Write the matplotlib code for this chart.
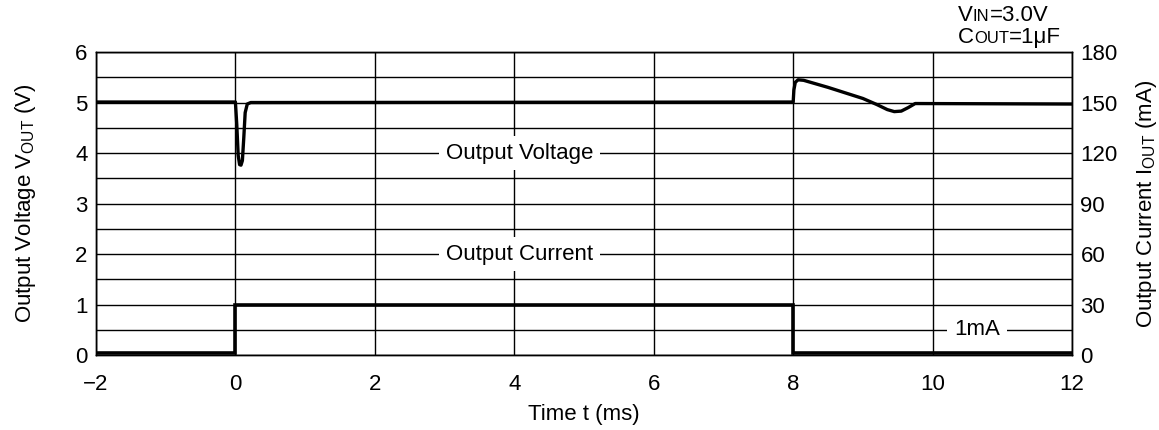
import numpy as np
import matplotlib
matplotlib.use("Agg")
import matplotlib.pyplot as plt
from matplotlib.offsetbox import TextArea, HPacker, VPacker, AnchoredOffsetbox

plt.rcParams['font.family'] = ['Liberation Sans', 'DejaVu Sans']
FS = 16

# output voltage trace (V) vs time (ms)
t_v = [-2.0, 0.0, 0.02, 0.04, 0.06, 0.08, 0.10, 0.12, 0.14, 0.17, 0.22, 0.40,
       8.0, 8.01, 8.03, 8.07, 8.15, 8.5, 9.0, 9.2, 9.35, 9.45, 9.55, 9.65, 9.75, 12.0]
vout = [5.01, 5.01, 4.55, 3.95, 3.77, 3.76, 3.85, 4.3, 4.8, 4.97, 5.0, 5.0,
        5.01, 5.25, 5.4, 5.45, 5.44, 5.3, 5.08, 4.96, 4.86, 4.82, 4.83, 4.9, 4.98, 4.97]

# output current (mA) vs time (ms)
t_i = [-2.0, 0.0, 0.0, 8.0, 8.0, 12.0]
iout = [1, 1, 30, 30, 1, 1]

xticks = [-2, 0, 2, 4, 6, 8, 10, 12]
v_ticks = [0, 1, 2, 3, 4, 5, 6]
i_ticks = [0, 30, 60, 90, 120, 150, 180]

fig = plt.figure(figsize=(11.59, 4.30), dpi=100)
ax = fig.add_axes([0.0828, 0.1744, 0.8422, 0.7046])
ax2 = ax.twinx()

ax.set_xlim(-2, 12)
ax.set_ylim(0, 6)
ax2.set_ylim(0, 180)

ax.set_xticks(xticks)
ax.set_xticklabels(['\u22122' if x < 0 else str(x) for x in xticks])
ax.set_yticks(v_ticks)
ax.set_yticks(np.arange(0, 6.01, 0.5), minor=True)
ax2.set_yticks(i_ticks)

ax.grid(True, which='both', color='black', linewidth=1.0)
ax.set_axisbelow(True)
for a in (ax, ax2):
    a.tick_params(axis='both', which='both', length=0, labelsize=FS, pad=6)
    for s in a.spines.values():
        s.set_linewidth(1.0)
        s.set_color('black')
ax.tick_params(axis='x', pad=14)

ax.plot(t_v, vout, color='black', linewidth=2.4, solid_joinstyle='round',
        solid_capstyle='butt', zorder=5)
ax2.plot(t_i, iout, color='black', linewidth=2.6, solid_joinstyle='miter', zorder=5)

box = dict(facecolor='white', edgecolor='none', pad=5)
ax.text(4.08, 4.0, 'Output Voltage', ha='center', va='center', fontsize=FS, bbox=box, zorder=4)
ax.text(4.08, 2.0, 'Output Current', ha='center', va='center', fontsize=FS, bbox=box, zorder=4)
ax.text(10.64, 0.5, '1mA', ha='center', va='center', fontsize=FS, bbox=box, zorder=4)

ax.set_xlabel('Time t (ms)', fontsize=FS, labelpad=6)
ax.set_ylabel(r'Output Voltage V$_{\mathregular{OUT}}$ (V)', fontsize=FS, labelpad=27)
ax2.set_ylabel(r'Output Current I$_{\mathregular{OUT}}$ (mA)', fontsize=FS, labelpad=12)


def small_caps(big, small, rest):
    return HPacker(children=[TextArea(big, textprops=dict(fontsize=FS)),
                             TextArea(small, textprops=dict(fontsize=12)),
                             TextArea(rest, textprops=dict(fontsize=FS))],
                   align='baseline', pad=0, sep=0)


note = VPacker(children=[small_caps('V', 'IN', '=3.0V'), small_caps('C', 'OUT', '=1\u03bcF')],
               align='left', pad=0, sep=1)
anch = AnchoredOffsetbox(loc='lower left', child=note, pad=0, frameon=False,
                         bbox_to_anchor=(958 / 1159, 1 - 48 / 430),
                         bbox_transform=fig.transFigure, borderpad=0)
fig.add_artist(anch)

fig.savefig('out.png', dpi=100)
